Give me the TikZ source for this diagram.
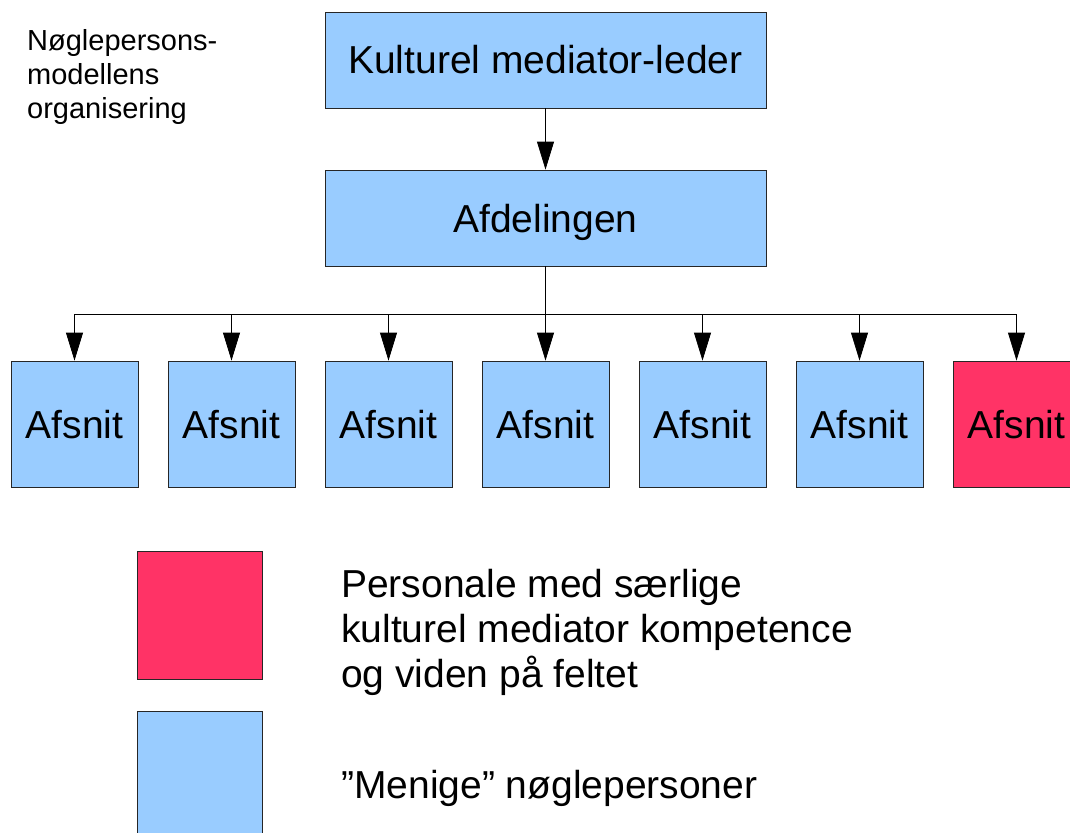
\documentclass[tikz,border=0pt]{standalone}
\usepackage{fontspec}
\setmainfont{Liberation Sans}
\usetikzlibrary{arrows.meta}
\definecolor{boxblue}{HTML}{99CCFF}
\definecolor{boxred}{HTML}{FF3366}
\begin{document}
\begin{tikzpicture}[x=1pt,y=-1pt,
  box/.style={draw=black!85, line width=0.8pt, inner sep=0pt,
    text height=28pt, text depth=0pt, font=\fontsize{39}{45}\selectfont},
  bluebox/.style={box, fill=boxblue},
  redbox/.style={box, fill=boxred},
  wide/.style={minimum width=441pt, minimum height=96pt},
  unit/.style={minimum width=127pt, minimum height=126pt},
  legendbox/.style={minimum width=125pt, minimum height=128pt},
  arr/.style={draw=black, line width=0.8pt, -{Triangle[length=28pt,width=17pt]}},
  legendtext/.style={inner sep=0pt, align=left, font=\fontsize{39}{45}\selectfont},
  titletext/.style={inner sep=0pt, align=left, font=\fontsize{29}{34}\selectfont}]
\useasboundingbox (0,0) rectangle (1070,832);
\clip (0,0) rectangle (1070,832);

\node[titletext, anchor=north west] (title) at (27,29) {Nøglepersons-\\modellens\\organisering};

\node[bluebox, wide] (lead) at (545.5,60) {Kulturel mediator-leder};
\node[bluebox, wide] (dept) at (545.5,218) {Afdelingen};

\node[bluebox, unit] (a1) at (74.5,424) {Afsnit};
\node[bluebox, unit] (a2) at (231.5,424) {Afsnit};
\node[bluebox, unit] (a3) at (388.5,424) {Afsnit};
\node[bluebox, unit] (a4) at (545.5,424) {Afsnit};
\node[bluebox, unit] (a5) at (702.5,424) {Afsnit};
\node[bluebox, unit] (a6) at (859.5,424) {Afsnit};
\node[redbox, unit] (a7) at (1016.5,424) {Afsnit};

\coordinate (bus) at (545.5,314);

\draw[arr] (lead.south) -- (dept.north);
\foreach \i in {1,...,7}{
  \draw[arr] (dept.south) -- (bus) -| (a\i.north);
}

\node[redbox, legendbox] (lred) at (199.5,615) {};
\node[bluebox, legendbox] (lblue) at (199.5,775) {};

\node[legendtext, anchor=west] (ltxt1) at (341,632) {Personale med særlige\\kulturel mediator kompetence\\og viden på feltet};
\node[legendtext, anchor=base west] (ltxt2) at (341,798) {”Menige” nøglepersoner};
\end{tikzpicture}
\end{document}
